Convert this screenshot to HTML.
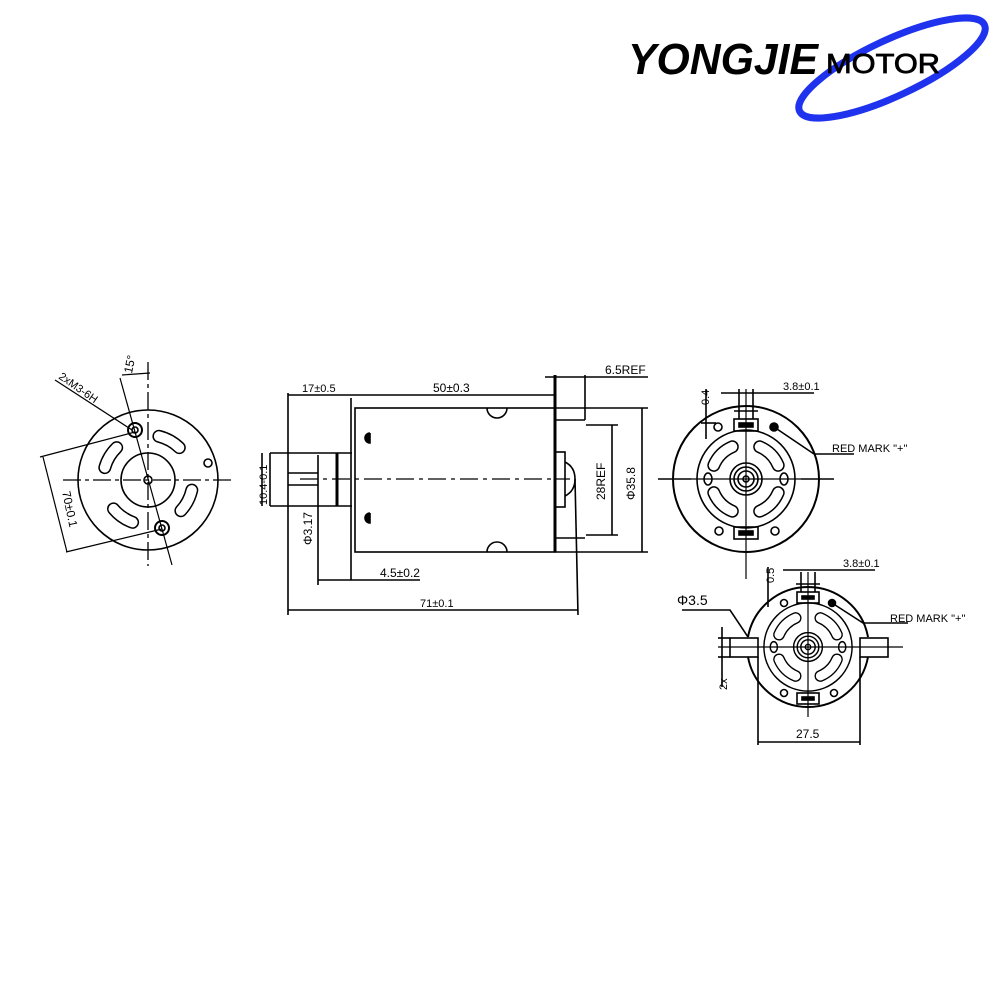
<!DOCTYPE html>
<html><head><meta charset="utf-8"><style>
html,body{margin:0;padding:0;background:#fff;}
svg{display:block}
text{font-family:"Liberation Sans",sans-serif;fill:#000}
</style></head><body>
<svg width="1000" height="1000" viewBox="0 0 1000 1000" xmlns="http://www.w3.org/2000/svg">
<rect width="1000" height="1000" fill="#fff"/>
<!-- Logo -->
<ellipse cx="892" cy="68" rx="102" ry="28" transform="rotate(-25 892 68)" fill="none" stroke="#1f33ee" stroke-width="7"/>
<text x="628" y="74" font-size="44" font-style="italic" font-weight="bold" textLength="190" lengthAdjust="spacingAndGlyphs">YONGJIE</text>
<text x="826" y="73" font-size="28" textLength="114" lengthAdjust="spacingAndGlyphs" stroke="#000" stroke-width="0.8">MOTOR</text>

<g fill="none" stroke="#000" stroke-width="1.6">
<!-- LEFT END VIEW -->
<circle cx="148" cy="480" r="70"/>
<circle cx="148" cy="480" r="27"/>
<circle cx="148" cy="480" r="4"/>
<g stroke-dasharray="18 4 4 4" stroke-width="1.3"><line x1="63" y1="480" x2="232" y2="480"/><line x1="148" y1="362" x2="148" y2="566"/></g>
<g stroke-width="13" stroke-linecap="round">
<path d="M158.9 436.3 A45 45 0 0 1 179.3 447.6"/><path d="M104.8 467.6 A45 45 0 0 1 116.7 447.6"/>
<path d="M132.6 522.3 A45 45 0 0 1 113.5 508.9"/><path d="M191.8 490.1 A45 45 0 0 1 180.9 510.7"/>
</g>
<g stroke-width="10" stroke-linecap="round" stroke="#fff">
<path d="M158.9 436.3 A45 45 0 0 1 179.3 447.6"/><path d="M104.8 467.6 A45 45 0 0 1 116.7 447.6"/>
<path d="M132.6 522.3 A45 45 0 0 1 113.5 508.9"/><path d="M191.8 490.1 A45 45 0 0 1 180.9 510.7"/>
</g>
<circle cx="135" cy="430" r="7" stroke-width="2"/><circle cx="135" cy="430" r="3"/>
<circle cx="162" cy="528" r="7" stroke-width="2"/><circle cx="162" cy="528" r="3"/>
<circle cx="208" cy="463" r="4"/>
<line x1="120" y1="378" x2="172" y2="565" stroke-width="1.2"/>
<line x1="122" y1="375" x2="150" y2="373" stroke-width="1.2"/>
<line x1="55" y1="380" x2="132" y2="430" stroke-width="1.2"/>
<line x1="40" y1="457" x2="135" y2="432" stroke-width="1.2"/>
<line x1="66" y1="552" x2="162" y2="529" stroke-width="1.2"/>
<line x1="43" y1="457" x2="67" y2="552" stroke-width="1.2"/>
<!-- SIDE VIEW -->
<rect x="355" y="408" width="200" height="144"/>
<path d="M487 408 A10 10 0 0 0 507 408 M487 552 A10 10 0 0 1 507 552"/>
<path d="M370 433 v10 a5 5 0 0 1 0 -10 M370 513 v10 a5 5 0 0 1 0 -10" fill="#000"/>
<line x1="351" y1="398" x2="351" y2="580"/>
<line x1="337" y1="453" x2="337" y2="506" stroke-width="3"/>
<line x1="270" y1="453" x2="352" y2="453"/><line x1="270" y1="506" x2="352" y2="506"/>
<line x1="288" y1="473" x2="318" y2="473"/><line x1="288" y1="485" x2="318" y2="485"/>
<line x1="318" y1="455" x2="318" y2="585"/>
<line x1="270" y1="453" x2="270" y2="506"/>
<line x1="555" y1="375" x2="555" y2="552" stroke-width="3"/>
<line x1="555" y1="420" x2="585" y2="420"/><line x1="555" y1="538" x2="585" y2="538"/>
<rect x="555" y="452" width="10" height="55"/>
<path d="M565 462 q10 5 10 17 q0 12 -10 17" />
<line x1="575" y1="479" x2="578" y2="615"/>
<line x1="555" y1="408" x2="648" y2="408"/><line x1="555" y1="552" x2="648" y2="552"/>
<line x1="585" y1="375" x2="585" y2="420"/>
<line x1="545" y1="377" x2="648" y2="377"/>
<line x1="586" y1="425" x2="618" y2="425"/><line x1="586" y1="535" x2="618" y2="535"/>
<line x1="612" y1="425" x2="612" y2="535"/>
<line x1="642" y1="408" x2="642" y2="552"/>
<line x1="288" y1="393" x2="288" y2="615"/>
<line x1="288" y1="395" x2="555" y2="395"/>
<line x1="318" y1="580" x2="420" y2="580"/>
<line x1="288" y1="610" x2="578" y2="610"/>
<line x1="262" y1="453" x2="262" y2="506"/>
<line x1="300" y1="479" x2="570" y2="479" stroke-dasharray="18 5 4 5" stroke-width="1.3"/>
<!-- RIGHT TOP END VIEW -->
<g transform="translate(746,479)">
<circle r="73" stroke-width="2"/>
<circle r="49"/>
<circle r="16"/><circle r="12"/><circle r="8"/><circle r="3"/>
<g stroke-width="13" stroke-linecap="round">
<path d="M13.7 -32.2 A35 35 0 0 1 32.2 -13.7"/><path d="M-32.2 -13.7 A35 35 0 0 1 -13.7 -32.2"/>
<path d="M32.2 13.7 A35 35 0 0 1 13.7 32.2"/><path d="M-13.7 32.2 A35 35 0 0 1 -32.2 13.7"/>
</g>
<g stroke-width="10" stroke-linecap="round" stroke="#fff">
<path d="M13.7 -32.2 A35 35 0 0 1 32.2 -13.7"/><path d="M-32.2 -13.7 A35 35 0 0 1 -13.7 -32.2"/>
<path d="M32.2 13.7 A35 35 0 0 1 13.7 32.2"/><path d="M-13.7 32.2 A35 35 0 0 1 -32.2 13.7"/>
</g>
<ellipse cx="-38" cy="0" rx="4" ry="6"/><ellipse cx="38" cy="0" rx="4" ry="6"/>
<circle cx="-28" cy="-52" r="4"/><circle cx="28" cy="-52" r="4" fill="#000"/>
<circle cx="-27" cy="52" r="4"/><circle cx="29" cy="52" r="4"/>
<rect x="-12" y="-60" width="24" height="12"/><rect x="-7" y="-56" width="14" height="4" fill="#000"/>
<rect x="-12" y="48" width="24" height="12"/><rect x="-7" y="52" width="14" height="4" fill="#000"/>
<line x1="-88" y1="0" x2="-55" y2="0"/><line x1="55" y1="0" x2="88" y2="0"/>
<line x1="-55" y1="0" x2="55" y2="0" stroke-width="1.2"/>
<line x1="0" y1="-90" x2="0" y2="100" stroke-width="1.2"/>
<line x1="-7" y1="-90" x2="-7" y2="-60"/><line x1="7" y1="-90" x2="7" y2="-60"/>
<line x1="-12" y1="-68" x2="12" y2="-68"/>
<line x1="-25" y1="-86" x2="68" y2="-86"/>
<line x1="-40" y1="-90" x2="-40" y2="-40"/>
<line x1="-45" y1="-56" x2="-30" y2="-56"/>
<polyline points="28,-52 68,-25 74,-25 108,-25"/>
</g>
<!-- RIGHT BOTTOM END VIEW -->
<g transform="translate(808,647)">
<path d="M-60 -10 A61 61 0 0 1 60 -10 M60 10 A61 61 0 0 1 -60 10" stroke-width="2"/>
<rect x="-78" y="-9" width="28" height="19"/><rect x="52" y="-9" width="28" height="19"/>
<g transform="scale(0.9)">
<circle r="49"/>
<circle r="16"/><circle r="12"/><circle r="8"/><circle r="3"/>
<g stroke-width="13" stroke-linecap="round">
<path d="M13.7 -32.2 A35 35 0 0 1 32.2 -13.7"/><path d="M-32.2 -13.7 A35 35 0 0 1 -13.7 -32.2"/>
<path d="M32.2 13.7 A35 35 0 0 1 13.7 32.2"/><path d="M-13.7 32.2 A35 35 0 0 1 -32.2 13.7"/>
</g>
<g stroke-width="10" stroke-linecap="round" stroke="#fff">
<path d="M13.7 -32.2 A35 35 0 0 1 32.2 -13.7"/><path d="M-32.2 -13.7 A35 35 0 0 1 -13.7 -32.2"/>
<path d="M32.2 13.7 A35 35 0 0 1 13.7 32.2"/><path d="M-13.7 32.2 A35 35 0 0 1 -32.2 13.7"/>
</g>
<ellipse cx="-38" cy="0" rx="4" ry="6"/><ellipse cx="38" cy="0" rx="4" ry="6"/>
</g>
<circle cx="-24" cy="-44" r="3.5"/><circle cx="24" cy="-44" r="3.5" fill="#000"/>
<circle cx="-24" cy="46" r="3.5"/><circle cx="26" cy="46" r="3.5"/>
<rect x="-11" y="-55" width="22" height="11"/><rect x="-6" y="-51" width="12" height="3" fill="#000"/>
<rect x="-11" y="46" width="22" height="11"/><rect x="-6" y="50" width="12" height="3" fill="#000"/>
<line x1="-90" y1="0" x2="95" y2="0" stroke-width="1.2"/>
<line x1="0" y1="-75" x2="0" y2="70" stroke-width="1.2"/>
<line x1="-7" y1="-75" x2="-7" y2="-55"/><line x1="7" y1="-75" x2="7" y2="-55"/>
<line x1="-12" y1="-63" x2="12" y2="-63"/>
<line x1="-25" y1="-77" x2="67" y2="-77"/>
<line x1="-40" y1="-80" x2="-40" y2="-40"/>
<polyline points="-126,-37 -78,-37 -60,-10"/>
<line x1="-86" y1="-20" x2="-86" y2="40"/>
<line x1="-90" y1="-9" x2="-78" y2="-9"/><line x1="-90" y1="10" x2="-78" y2="10"/>
<line x1="-50" y1="10" x2="-50" y2="98"/><line x1="52" y1="10" x2="52" y2="98"/>
<line x1="-50" y1="95" x2="52" y2="95"/>
<polyline points="24,-44 55,-24 64,-24 100,-24"/>
</g>
</g>
<!-- Text labels -->
<g font-size="12">
<text x="123" y="373" transform="rotate(-78 128 368)">15°</text>
<text x="58" y="378" transform="rotate(35 58 378)" font-size="11">2xM3-6H</text>
<text x="62" y="492" transform="rotate(78 62 492)" font-size="12">70±0.1</text>
<text x="267" y="505" transform="rotate(-90 267 505)" font-size="11">10.4-0.1</text>
<text x="312" y="545" transform="rotate(-90 312 545)" font-size="12">Φ3.17</text>
<text x="302" y="392" font-size="11">17±0.5</text>
<text x="433" y="392" font-size="12">50±0.3</text>
<text x="605" y="374" font-size="12">6.5REF</text>
<text x="380" y="577" font-size="12">4.5±0.2</text>
<text x="420" y="607" font-size="11">71±0.1</text>
<text x="605" y="500" transform="rotate(-90 605 500)" font-size="12">28REF</text>
<text x="635" y="500" transform="rotate(-90 635 500)" font-size="12">Φ35.8</text>
<text x="783" y="390" font-size="11">3.8±0.1</text>
<text x="709" y="405" transform="rotate(-90 709 405)" font-size="11">0.4</text>
<text x="832" y="452" font-size="11">RED MARK "+"</text>
<text x="843" y="567" font-size="11">3.8±0.1</text>
<text x="774" y="583" transform="rotate(-90 774 583)" font-size="11">0.5</text>
<text x="890" y="622" font-size="11">RED MARK "+"</text>
<text x="677" y="605" font-size="14">Φ3.5</text>
<text x="727" y="690" transform="rotate(-90 727 690)" font-size="11">2x</text>
<text x="796" y="738" font-size="12">27.5</text>
</g>
</svg>
</body></html>
